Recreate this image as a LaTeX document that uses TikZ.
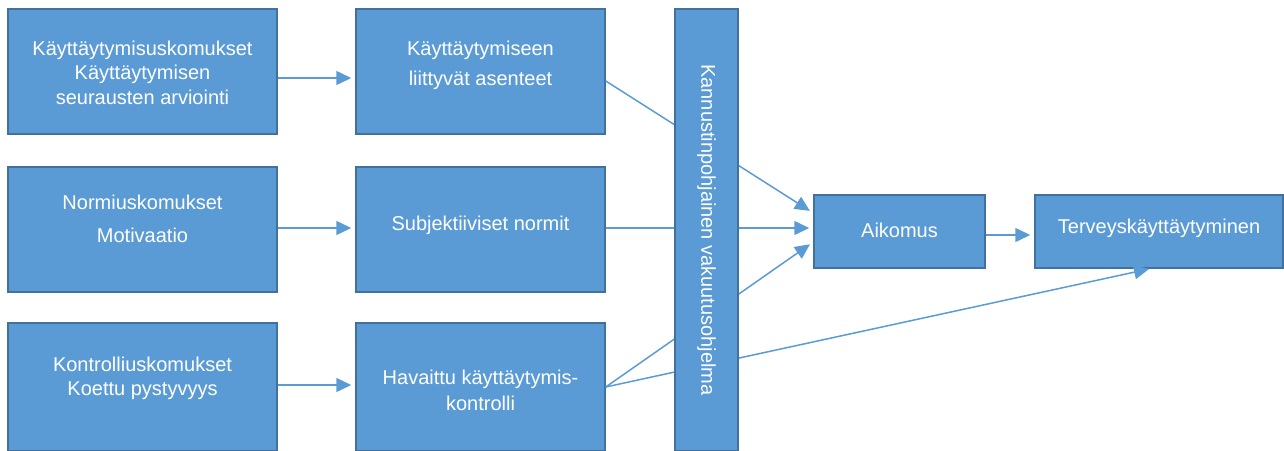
\documentclass[tikz,border=0pt]{standalone}
\usepackage{fontspec}
\setmainfont{Liberation Sans}
\usetikzlibrary{positioning,arrows.meta}
\definecolor{boxfill}{HTML}{5B9BD5}
\definecolor{boxline}{HTML}{41719C}

\begin{document}
\begin{tikzpicture}[
  x=1pt, y=-1pt,
  box/.style={draw=boxline,fill=boxfill,line width=1.5pt,rectangle,inner sep=0pt},
  txt/.style={text=white,align=center,font=\fontsize{20}{24}\selectfont},
  link/.style={draw=boxfill,line width=1.5pt},
  arr/.style={link,-{Triangle[length=15pt,width=14pt]},shorten >=4pt}
]
\useasboundingbox (0,0) rectangle (1284,450);
% left column
\node[box,minimum width=269pt,minimum height=125pt,
  label={[txt,yshift=-1pt]center:K\"aytt\"aytymisuskomukset\\[0.5pt]K\"aytt\"aytymisen\\[0.5pt]seurausten arviointi}] (usk) at (142.5,71.5) {};
\node[box,minimum width=269pt,minimum height=125pt,
  label={[txt,yshift=11pt]center:Normiuskomukset\\[9pt]Motivaatio}] (norm) at (142.5,229.5) {};
\node[box,minimum width=269pt,minimum height=128pt,
  label={[txt,yshift=9pt]center:Kontrolliuskomukset\\Koettu pystyvyys}] (kon) at (142.5,387) {};
% middle column
\node[box,minimum width=249pt,minimum height=125pt,
  label={[txt,yshift=6.5pt]center:K\"aytt\"aytymiseen\\[6pt]liittyv\"at asenteet}] (ase) at (480.5,71.5) {};
\node[box,minimum width=249pt,minimum height=125pt,
  label={[txt,yshift=4.5pt]center:Subjektiiviset normit}] (sub) at (480.5,229.5) {};
\node[box,minimum width=249pt,minimum height=128pt,
  label={[txt,yshift=-3pt]center:Havaittu k\"aytt\"aytymis-\\[2pt]kontrolli}] (hav) at (480.5,387) {};
% right side
\node[box,minimum width=171pt,minimum height=73pt,
  label={[txt,yshift=1.5pt]center:Aikomus}] (aik) at (899.5,231.5) {};
\node[box,minimum width=248pt,minimum height=73pt,
  label={[txt,yshift=3.5pt]center:Terveysk\"aytt\"aytyminen}] (terv) at (1159,231.5) {};
% connectors
\path ([yshift=-6.5pt]usk.east) edge[arr] ([yshift=-6.5pt]ase.west)
  ([yshift=1.5pt]norm.east) edge[arr] ([yshift=1.5pt]sub.west)
  ([yshift=2pt]kon.east) edge[arr] ([yshift=2pt]hav.west)
  ([yshift=-9.5pt]ase.east) edge[arr] ([yshift=18.5pt]aik.west)
  ([yshift=1.5pt]sub.east) edge[arr] ([yshift=3.5pt]aik.west)
  (hav.east) edge[arr] ([yshift=-10.5pt]aik.west)
  (hav.east) edge[arr,shorten >=1pt] ([xshift=-9pt]terv.south)
  ([yshift=-3.5pt]aik.east) edge[arr] ([yshift=-3.5pt]terv.west);
% programme bar on top of the links
\node[box,minimum width=63pt,minimum height=442pt,
  label={[txt,rotate=-90]center:Kannustinpohjainen vakuutusohjelma}] (ohj) at (706.5,230) {};
\end{tikzpicture}
\end{document}
